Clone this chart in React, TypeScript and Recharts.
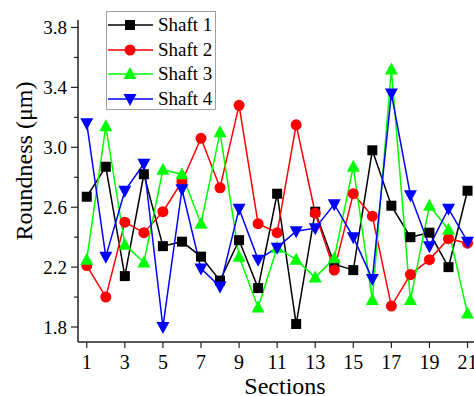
import React from 'react';
import { LineChart, Line, XAxis, YAxis } from 'recharts';

const sections = [1, 2, 3, 4, 5, 6, 7, 8, 9, 10, 11, 12, 13, 14, 15, 16, 17, 18, 19, 20, 21];
const shaft1 = [2.67, 2.87, 2.14, 2.82, 2.34, 2.37, 2.27, 2.11, 2.38, 2.06, 2.69, 1.82, 2.57, 2.22, 2.18, 2.98, 2.61, 2.40, 2.43, 2.20, 2.71];
const shaft2 = [2.21, 2.00, 2.50, 2.43, 2.57, 2.77, 3.06, 2.73, 3.28, 2.49, 2.43, 3.15, 2.56, 2.18, 2.69, 2.54, 1.94, 2.15, 2.25, 2.39, 2.36];
const shaft3 = [2.25, 3.14, 2.35, 2.23, 2.85, 2.82, 2.49, 3.10, 2.27, 1.93, 2.33, 2.25, 2.13, 2.26, 2.87, 1.98, 3.52, 1.98, 2.61, 2.45, 1.89];
const shaft4 = [3.16, 2.27, 2.71, 2.89, 1.80, 2.72, 2.19, 2.07, 2.59, 2.25, 2.33, 2.44, 2.46, 2.62, 2.40, 2.12, 3.36, 2.68, 2.34, 2.59, 2.37];

const yTicks = [1.8, 2.0, 2.2, 2.4, 2.6, 2.8, 3.0, 3.2, 3.4, 3.6, 3.8];
const yLabels = [1.8, 2.2, 2.6, 3.0, 3.4, 3.8];
const xTicks = [1, 3, 5, 7, 9, 11, 13, 15, 17, 19, 21];

const data = sections.map((s, i) => ({
  section: s,
  s1: shaft1[i],
  s2: shaft2[i],
  s3: shaft3[i],
  s4: shaft4[i],
}));

const FONT = '"Liberation Serif", "Times New Roman", serif';
const AXIS = '#222';

const series = [
  { key: 's1', name: 'Shaft 1', color: '#000000', shape: 'square' },
  { key: 's2', name: 'Shaft 2', color: '#ff0000', shape: 'circle' },
  { key: 's3', name: 'Shaft 3', color: '#00ff00', shape: 'up' },
  { key: 's4', name: 'Shaft 4', color: '#0000ff', shape: 'down' },
];

// marker drawn around a centre point
const Marker = ({ cx, cy, shape, color }: any) => {
  if (cx == null || cy == null) return null;
  if (shape === 'square') return <rect x={cx - 5} y={cy - 5} width={10} height={10} fill={color} />;
  if (shape === 'circle') return <circle cx={cx} cy={cy} r={5.5} fill={color} />;
  if (shape === 'up')
    return <polygon points={`${cx},${cy - 7} ${cx + 6.5},${cy + 5} ${cx - 6.5},${cy + 5}`} fill={color} />;
  return <polygon points={`${cx},${cy + 7} ${cx + 6.5},${cy - 5} ${cx - 6.5},${cy - 5}`} fill={color} />;
};

const YTick = (props: any) => {
  const { x, y, payload } = props;
  const v = Math.round(payload.value * 10) / 10;
  const major = yLabels.some((l) => Math.abs(l - v) < 1e-6);
  return (
    <g>
      <line x1={x} x2={x - (major ? 7 : 4)} y1={y} y2={y} stroke={AXIS} strokeWidth={1.2} />
      {major && (
        <text x={x - 11} y={y} dy="0.35em" textAnchor="end" style={{ fontSize: 19, fontFamily: FONT }} fill="#000">
          {v.toFixed(1)}
        </text>
      )}
    </g>
  );
};

const XTick = (props: any) => {
  const { x, y, payload } = props;
  return (
    <g>
      <line x1={x} x2={x} y1={y} y2={y + 6} stroke={AXIS} strokeWidth={1.2} />
      <text x={x} y={y + 27} textAnchor="middle" style={{ fontSize: 20, fontFamily: FONT }} fill="#000">
        {payload.value}
      </text>
    </g>
  );
};

const Legend = () => (
  <div
    style={{
      position: 'absolute',
      left: 106,
      top: 11,
      width: 110,
      height: 99,
      border: '1px solid #a0a0a0',
      background: '#fff',
      boxSizing: 'border-box',
      fontFamily: FONT,
    }}
  >
    {series.map((s, i) => (
      <div key={s.key} style={{ position: 'absolute', left: 0, top: 1 + i * 24.6, height: 24, display: 'flex', alignItems: 'center' }}>
        <svg width={48} height={24} style={{ display: 'block' }}>
          <line x1={1} x2={46} y1={12} y2={12} stroke={s.color} strokeWidth={1.5} />
          <Marker cx={23} cy={12} shape={s.shape} color={s.color} />
        </svg>
        <span style={{ fontSize: 19, marginLeft: 3, color: '#000', whiteSpace: 'nowrap' }}>{s.name}</span>
      </div>
    ))}
  </div>
);

export default function App() {
  return (
    <div style={{ position: 'fixed', left: 0, top: 0, width: 474, height: 396, background: '#fff' }}>
      <LineChart width={474} height={396} data={data} margin={{ top: 20, right: 0, bottom: 0, left: 0 }}>
        <XAxis
          dataKey="section"
          type="number"
          domain={[0.54, 21.34]}
          ticks={xTicks}
          interval={0}
          allowDataOverflow
          tickSize={0}
          tickMargin={0}
          tickLine={false}
          tick={<XTick />}
          axisLine={{ stroke: AXIS, strokeWidth: 1.5 }}
          height={54}
        />
        <YAxis
          type="number"
          domain={[1.7, 3.85]}
          ticks={yTicks}
          interval={0}
          allowDataOverflow
          width={78}
          tickSize={0}
          tickMargin={0}
          tickLine={false}
          tick={<YTick />}
          axisLine={{ stroke: AXIS, strokeWidth: 1.5 }}
        />
        {series.map((s) => (
          <Line
            key={s.key}
            dataKey={s.key}
            type="linear"
            stroke={s.color}
            strokeWidth={1.5}
            isAnimationActive={false}
            dot={(p: any) => <Marker key={`${s.key}-${p.index}`} cx={p.cx} cy={p.cy} shape={s.shape} color={s.color} />}
            activeDot={false}
          />
        ))}
      </LineChart>
      <Legend />
      <svg
        width={474}
        height={396}
        style={{ position: 'absolute', left: 0, top: 0, pointerEvents: 'none' }}
      >
        <text
          x={0}
          y={0}
          transform="translate(32, 161) rotate(-90)"
          textAnchor="middle"
          style={{ fontSize: 24, fontFamily: FONT }}
          fill="#000"
        >
          Roundness (μm)
        </text>
        <text x={285} y={394} textAnchor="middle" style={{ fontSize: 24, fontFamily: FONT }} fill="#000">
          Sections
        </text>
      </svg>
    </div>
  );
}
